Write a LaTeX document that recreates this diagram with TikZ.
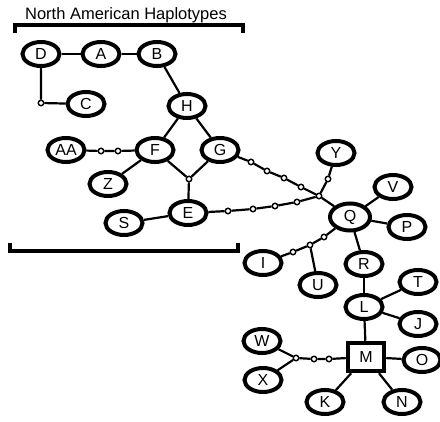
\documentclass[tikz,border=0pt]{standalone}
\usepackage{fontspec}
\setmainfont{Liberation Sans}
\usetikzlibrary{shapes.geometric}

\begin{document}
\begin{tikzpicture}[x=1pt,y=-1pt,
        hap/.style={draw,ellipse,line width=4pt,minimum width=37pt,minimum height=24pt,inner sep=0pt,font=\fontsize{16}{19}\selectfont},
        big hap/.style={hap,minimum width=40pt,minimum height=27pt},
        root/.style={draw,rectangle,line width=4.5pt,minimum width=36pt,minimum height=28pt,inner sep=0pt,font=\fontsize{16}{19}\selectfont},
        mut/.style={draw,circle,fill=white,line width=1.4pt,minimum size=5.5pt,inner sep=0pt},
        link/.style={line width=2.2pt},
        bracket/.style={line width=4pt}]
    \useasboundingbox (0,0) rectangle (440,422);

    % group label and brackets
    \node[anchor=base,font=\fontsize{16.5}{19}\selectfont,inner sep=0pt] (title) at (126,20) {North American Haplotypes};
    \draw[bracket] (15,33) -- (15,25) -- (243,25) -- (243,33);
    \draw[bracket] (10,243) -- (10,251) -- (238,251) -- (238,243);

    % haplotypes
    \node[hap] (D) at (41,54) {D};
    \node[hap] (A) at (101,54) {A};
    \node[hap] (B) at (157,54) {B};
    \node[hap] (C) at (86,104) {C};
    \node[hap] (H) at (187,106) {H};
    \node[hap] (AA) at (66,150) {AA};
    \node[hap] (F) at (155,150) {F};
    \node[hap] (G) at (220,150) {G};
    \node[hap] (Z) at (108,184) {Z};
    \node[hap] (E) at (188,213) {E};
    \node[hap] (S) at (124,223) {S};
    \node[hap] (Y) at (336,153) {Y};
    \node[hap] (V) at (393,187) {V};
    \node[big hap] (Q) at (350,217) {Q};
    \node[hap] (P) at (407,227) {P};
    \node[hap] (I) at (263,263) {I};
    \node[hap] (R) at (364,264) {R};
    \node[hap] (U) at (318,285) {U};
    \node[hap] (T) at (418,282) {T};
    \node[hap] (L) at (364,307) {L};
    \node[hap] (J) at (418,324) {J};
    \node[hap] (W) at (262,341) {W};
    \node[root] (M) at (366,357) {M};
    \node[hap] (O) at (422,360) {O};
    \node[hap] (X) at (263,380) {X};
    \node[hap] (K) at (325,402) {K};
    \node[hap] (N) at (402,402) {N};

    % missing steps
    \node[mut] (dc) at (41,103) {};
    \node[mut] (aa1) at (101,151) {};
    \node[mut] (aa2) at (118,151) {};
    \node[mut] (fg) at (189,179) {};
    \node[mut] (g1) at (251,162) {};
    \node[mut] (g2) at (267,171) {};
    \node[mut] (g3) at (284,178) {};
    \node[mut] (g4) at (301,187) {};
    \node[mut] (e1) at (228,211) {};
    \node[mut] (e2) at (253,209) {};
    \node[mut] (e3) at (275,206) {};
    \node[mut] (e4) at (297,202) {};
    \node[mut] (y1) at (328,179) {};
    \node[mut] (qj) at (319,196) {};
    \node[mut] (i1) at (324,237) {};
    \node[mut] (iu) at (310,245) {};
    \node[mut] (i2) at (293,252) {};
    \node[mut] (m1) at (329,359) {};
    \node[mut] (m2) at (314,359) {};
    \node[mut] (wx) at (296,358) {};

    % network
    \draw[link] (D) -- (A) -- (B);
    \draw[link] (D) -- (dc) -- (C);
    \draw[link] (B) -- (H);
    \draw[link] (H) -- (F);
    \draw[link] (H) -- (G);
    \draw[link] (AA) -- (aa1) -- (aa2) -- (F);
    \draw[link] (F) -- (Z);
    \draw[link] (F) -- (fg) -- (G);
    \draw[link] (fg) -- (E);
    \draw[link] (E) -- (S);
    \draw[link] (G) -- (g1) -- (g2) -- (g3) -- (g4) -- (qj);
    \draw[link] (E) -- (e1) -- (e2) -- (e3) -- (e4) -- (qj);
    \draw[link] (Y) -- (y1) -- (qj);
    \draw[link] (qj) -- (Q);
    \foreach \t in {V,P,R}
        \draw[link] (Q) -- (\t);
    \draw[link] (Q) -- (i1) -- (iu) -- (i2) -- (I);
    \draw[link] (iu) -- (U);
    \foreach \t in {T,J,M}
        \draw[link] (L) -- (\t);
    \draw[link] (R) -- (L);
    \foreach \t in {O,N,K}
        \draw[link] (M) -- (\t);
    \draw[link] (M) -- (m1) -- (m2) -- (wx);
    \draw[link] (wx) -- (W);
    \draw[link] (wx) -- (X);
\end{tikzpicture}
\end{document}
